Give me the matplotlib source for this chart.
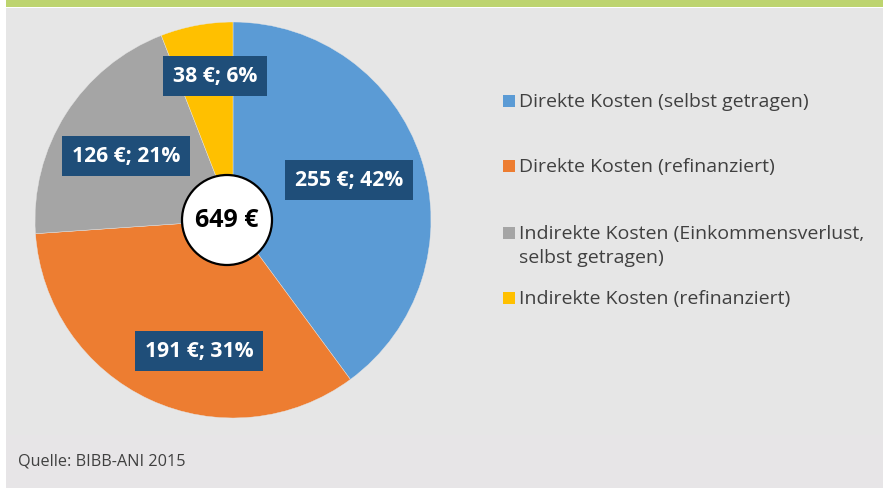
import matplotlib
matplotlib.use("Agg")
import matplotlib.pyplot as plt
from matplotlib.patches import Rectangle, Circle

# Werte
categories = ["Direkte Kosten (selbst getragen)",
              "Direkte Kosten (refinanziert)",
              "Indirekte Kosten (Einkommensverlust,\nselbst getragen)",
              "Indirekte Kosten (refinanziert)"]
amounts = [255, 191, 126, 38]
percents = [42, 31, 21, 6]
shares = [39.9, 34.0, 20.2, 5.9]
total_label = "649 €"
source = "Quelle: BIBB-ANI 2015"

colors = ["#5b9bd5", "#ed7d31", "#a5a5a5", "#ffc000"]
W, H = 883, 489

fig = plt.figure(figsize=(W / 100, H / 100), dpi=100)
fig.patch.set_facecolor("white")
ax = fig.add_axes([0, 0, 1, 1])

# Hintergrund
ax.add_patch(Rectangle((6, 0), W - 6, H - 9, fc="#e6e6e6", ec="none", zorder=0))
ax.add_patch(Rectangle((6, 0), W - 6, H - 436, fc="#e7e5e7", ec="none", zorder=0))
ax.add_patch(Rectangle((6, H - 8), W - 6, 8, fc="#bdd46f", ec="none", zorder=0))

# Torte
cx, cy, r = 233, H - 221, 198
wedges, _ = ax.pie(shares, colors=colors, startangle=90, counterclock=False,
                   center=(cx, cy), radius=r, frame=True,
                   wedgeprops=dict(linewidth=0.3, edgecolor="#e6e6e6"))

# Datenbeschriftungen
label_pos = [(349, 181), (199, 352), (126, 156.5), (215, 76.5)]
for (x, y), a, p in zip(label_pos, amounts, percents):
    ax.text(x, H - y, f"{a} €; {p}%", ha="center", va="center",
            color="white", fontsize=15.2, fontweight="bold", family="Open Sans",
            bbox=dict(boxstyle="square,pad=0.45", fc="#1f4e79", ec="none"),
            zorder=5)

# Summe in der Mitte
ax.add_patch(Circle((227, H - 221), 45, fc="white", ec="black", lw=1.6, zorder=6))
ax.text(227, H - 221, total_label, ha="center", va="center", fontsize=18,
        fontweight="bold", family="Open Sans", color="black", zorder=7)

# Legende
leg_y = [102, 167, 234, 299]
for y, lab, c in zip(leg_y, categories, colors):
    ax.add_patch(Rectangle((503, H - y - 6), 12, 12, fc=c, ec="none"))
    for i, line in enumerate(lab.split("\n")):
        ax.text(519, H - y - 24 * i, line, ha="left", va="center",
                fontsize=14, family="Open Sans", color="#404040")

ax.text(18, H - 462, source, ha="left", va="center", fontsize=11.7,
        family="Open Sans", color="#404040")

ax.set_xlim(0, W)
ax.set_ylim(0, H)
ax.set_aspect("equal")
ax.axis("off")
fig.savefig("out.png", dpi=100)
